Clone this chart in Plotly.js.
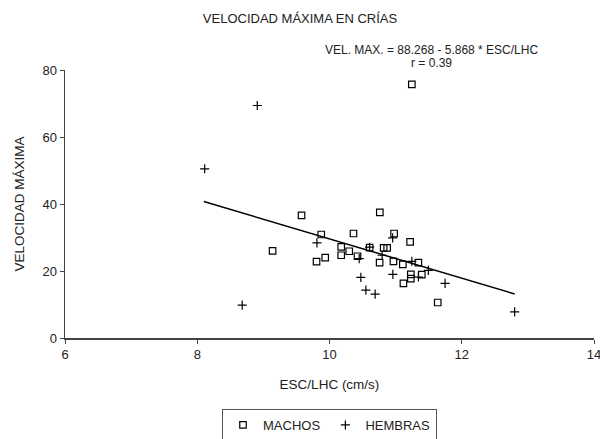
<!DOCTYPE html>
<html>
<head>
<meta charset="utf-8">
<script src="https://cdn.plot.ly/plotly-3.0.1.min.js"></script>
<style>html,body{margin:0;padding:0;background:#fff;}#chart{width:600px;height:439px;}</style>
</head>
<body>
<div id="chart"></div>
<script>
// MACHOS (squares)
const machosX = [11.245, 9.139, 9.577, 9.875, 9.935, 9.804, 10.177, 10.177, 10.298, 10.363, 10.423, 10.607, 10.761, 10.819, 10.872, 10.758, 10.977, 10.967, 11.219, 11.109, 11.344, 11.23, 11.23, 11.396, 11.118, 11.637];
const machosY = [75.7, 26.0, 36.6, 30.9, 24.0, 22.8, 27.2, 24.7, 25.9, 31.2, 24.4, 27.0, 37.5, 26.9, 26.9, 22.5, 31.2, 22.9, 28.7, 22.0, 22.5, 19.0, 17.7, 18.9, 16.3, 10.6];
// HEMBRAS (crosses)
const hembrasX = [8.112, 8.908, 8.68, 9.81, 10.607, 10.449, 10.796, 10.955, 10.474, 10.55, 10.69, 10.958, 11.245, 11.344, 11.495, 11.748, 12.8];
const hembrasY = [50.5, 69.4, 9.8, 28.4, 27.1, 23.7, 24.7, 29.9, 18.1, 14.3, 13.1, 19.0, 22.9, 18.2, 20.2, 16.3, 7.8];
// Regression: VEL. MAX. = 88.268 - 5.868 * ESC/LHC
const fitIntercept = 88.268;
const fitSlope = -5.868;
const fitX = [8.1, 12.8];
const fitY = fitX.map(x => fitIntercept + fitSlope * x);

const font = "Liberation Sans, Arial, sans-serif";
const narrow = "Liberation Sans Narrow, Liberation Sans, Arial, sans-serif";
const traces = [
  {x: fitX, y: fitY, mode: 'lines', line: {color: '#000', width: 1.5}, showlegend: false, hoverinfo: 'skip'},
  {x: machosX, y: machosY, mode: 'markers', name: 'MACHOS',
   marker: {symbol: 'square-open', size: 6.5, color: '#000', line: {width: 1.2, color: '#000'}}},
  {x: hembrasX, y: hembrasY, mode: 'markers', name: 'HEMBRAS',
   marker: {symbol: 'cross-thin-open', size: 6.5, color: '#000', line: {width: 1.2, color: '#000'}}}
];
const layout = {
  width: 600, height: 439,
  margin: {l: 64.5, r: 6, t: 70, b: 101},
  paper_bgcolor: '#fff', plot_bgcolor: '#fff',
  font: {family: font, color: '#222', size: 12},
  title: {text: 'VELOCIDAD MÁXIMA EN CRÍAS', font: {size: 13, color: '#222', family: font}, x: 0.5, xanchor: 'center', y: 0.958, yanchor: 'middle'},
  xaxis: {range: [6, 14], dtick: 2, tick0: 6, showgrid: false, zeroline: false, showline: true, linecolor: '#444', linewidth: 1.5,
          ticks: 'outside', ticklen: 4, tickcolor: '#444', tickfont: {size: 13, color: '#222'}, ticklabeloverflow: 'allow',
          title: {text: 'ESC/LHC (cm/s)', font: {size: 13.5, color: '#222'}, standoff: 18}},
  yaxis: {range: [0, 80], dtick: 20, showgrid: false, zeroline: false, showline: true, linecolor: '#444', linewidth: 1.5,
          ticks: 'outside', ticklen: 4, tickcolor: '#444', tickfont: {size: 13, color: '#222'},
          title: {text: 'VELOCIDAD MÁXIMA', font: {size: 13.5, color: '#222'}, standoff: 14}},
  showlegend: true,
  legend: {orientation: 'h', x: 0.5, xanchor: 'center', yref: 'container', y: (439 - 425) / 439, yanchor: 'middle',
           bordercolor: '#555', borderwidth: 1, font: {size: 13, color: '#222', family: narrow}, itemwidth: 30, tracegroupgap: 0},
  annotations: [
    {xref: 'paper', yref: 'paper', x: (431 - 64.5) / 529.5, y: (338 - 50) / 268, text: 'VEL. MAX. = 88.268 - 5.868 * ESC/LHC',
     showarrow: false, xanchor: 'center', yanchor: 'middle', font: {size: 12, color: '#222'}},
    {xref: 'paper', yref: 'paper', x: (431 - 64.5) / 529.5, y: (338 - 63) / 268, text: 'r = 0.39',
     showarrow: false, xanchor: 'center', yanchor: 'middle', font: {size: 12, color: '#222'}}
  ]
};
Plotly.newPlot('chart', traces, layout, {displayModeBar: false, staticPlot: true});
</script>
</body>
</html>
